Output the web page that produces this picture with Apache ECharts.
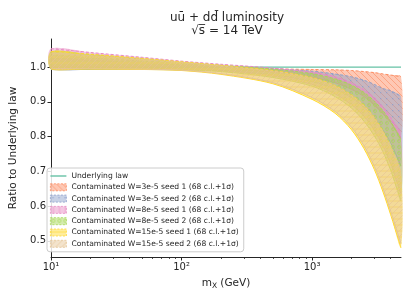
<!DOCTYPE html>
<html><head><meta charset="utf-8">
<script src="https://cdn.jsdelivr.net/npm/echarts@6/dist/echarts.min.js"></script>
<style>html,body{margin:0;padding:0;background:#fff}#c{width:407px;height:295px}</style>
</head><body><div id="c"></div>
<script>
// ---- data ----
const mxValues = [10, 20, 50, 100, 200, 500, 1000, 1500, 2000, 2500, 3000, 3500, 4000, 4800];
const underlyingLaw = [1, 1, 1, 1, 1, 1, 1, 1, 1, 1, 1, 1, 1, 1];

const orangeUpper = [1.025, 1.020, 1.012, 1.006, 1.000, 0.995, 0.993, 0.992, 0.990, 0.987, 0.984, 0.980, 0.977, 0.972];
const orangeLower = [0.995, 0.996, 0.996, 0.995, 0.993, 0.985, 0.970, 0.955, 0.936, 0.915, 0.890, 0.865, 0.840, 0.795];
const blueUpper   = [1.033, 1.026, 1.017, 1.010, 1.003, 0.995, 0.988, 0.980, 0.972, 0.962, 0.950, 0.938, 0.932, 0.915];
const blueLower   = [0.993, 0.993, 0.993, 0.992, 0.990, 0.978, 0.958, 0.937, 0.912, 0.884, 0.853, 0.818, 0.782, 0.715];
const pinkUpper   = [1.053, 1.042, 1.028, 1.017, 1.008, 0.997, 0.985, 0.972, 0.955, 0.935, 0.912, 0.885, 0.855, 0.810];
const pinkLower   = [0.998, 0.997, 0.996, 0.994, 0.989, 0.974, 0.950, 0.923, 0.892, 0.858, 0.818, 0.772, 0.722, 0.635];
const greenUpper  = [1.045, 1.036, 1.024, 1.014, 1.005, 0.994, 0.981, 0.966, 0.948, 0.927, 0.902, 0.874, 0.843, 0.790];
const greenLower  = [0.996, 0.995, 0.994, 0.992, 0.987, 0.970, 0.945, 0.915, 0.882, 0.844, 0.802, 0.755, 0.703, 0.615];
const yellowUpper = [1.045, 1.037, 1.025, 1.015, 1.005, 0.990, 0.970, 0.947, 0.920, 0.890, 0.855, 0.815, 0.770, 0.695];
const yellowLower = [0.994, 0.994, 0.993, 0.990, 0.979, 0.952, 0.907, 0.867, 0.820, 0.765, 0.705, 0.640, 0.575, 0.480];
const tanUpper    = [1.040, 1.033, 1.022, 1.013, 1.003, 0.988, 0.968, 0.945, 0.918, 0.888, 0.853, 0.813, 0.768, 0.698];
const tanLower    = [0.996, 0.995, 0.994, 0.991, 0.981, 0.955, 0.912, 0.872, 0.827, 0.773, 0.714, 0.650, 0.585, 0.492];

const bandNames = [
  'Contaminated W=3e-5 seed 1 (68 c.l.+1σ)',
  'Contaminated W=3e-5 seed 2 (68 c.l.+1σ)',
  'Contaminated W=8e-5 seed 1 (68 c.l.+1σ)',
  'Contaminated W=8e-5 seed 2 (68 c.l.+1σ)',
  'Contaminated W=15e-5 seed 1 (68 c.l.+1σ)',
  'Contaminated W=15e-5 seed 2 (68 c.l.+1σ)'
];
const xTickValues = [10, 100, 1000];
const xTickLabels = ['10¹', '10²', '10³'];
const xMinorTicks = [20,30,40,50,60,70,80,90,200,300,400,500,600,700,800,900,2000,3000,4000];
const yTickValues = [0.5, 0.6, 0.7, 0.8, 0.9, 1.0];
const yTickLabels = ['0.5', '0.6', '0.7', '0.8', '0.9', '1.0'];

// ---- styles ----
const bandColors = ['#fc8d62', '#8da0cb', '#e78ac3', '#a6d854', '#ffd92f', '#e5c494'];
const hatchTypes = ['\\', '.', '|', 'o', '-', '/'];
const ink = '#262626';
const FONT = 'DejaVu Sans';
const SMOOTH = 0.3;

function rgba(hex, a) {
  const n = parseInt(hex.slice(1), 16);
  return 'rgba(' + ((n >> 16) & 255) + ',' + ((n >> 8) & 255) + ',' + (n & 255) + ',' + a + ')';
}
function hatch(hex, type) {
  const s = 6;
  const c = document.createElement('canvas');
  c.width = s; c.height = s;
  const g = c.getContext('2d');
  g.fillStyle = rgba(hex, 0.48);
  g.fillRect(0, 0, s, s);
  g.strokeStyle = rgba(hex, 0.85);
  g.fillStyle = rgba(hex, 0.85);
  g.lineWidth = 0.7;
  g.beginPath();
  if (type === '\\') { g.moveTo(0, 0); g.lineTo(s, s); }
  else if (type === '/') { g.moveTo(0, s); g.lineTo(s, 0); }
  else if (type === '|') { g.moveTo(s / 2, 0); g.lineTo(s / 2, s); }
  else if (type === '-') { g.moveTo(0, s / 2); g.lineTo(s, s / 2); }
  else if (type === 'o') { g.arc(s / 2, s / 2, 1.6, 0, Math.PI * 2); }
  g.stroke();
  if (type === '.') { g.fillRect(2, 2, 1.2, 1.2); }
  return c;
}

const uppers = [orangeUpper, blueUpper, pinkUpper, greenUpper, yellowUpper, tanUpper];
const lowers = [orangeLower, blueLower, pinkLower, greenLower, yellowLower, tanLower];

const series = [{
  type: 'line', name: 'Underlying law', xAxisIndex: 0,
  data: mxValues.map((x, j) => [x, underlyingLaw[j]]),
  symbol: 'none', lineStyle: { color: '#66c2a5', width: 1.3 }, itemStyle: { color: '#66c2a5' }, z: 1
}];
const legendData = [{ name: 'Underlying law', icon: 'path://M0,0 L16,0 L16,1.4 L0,1.4 Z', itemStyle: { color: '#66c2a5' } }];

bandNames.forEach((name, i) => {
  const col = bandColors[i];
  const pat = { image: hatch(col, hatchTypes[i]), repeat: 'repeat' };
  series.push({
    type: 'custom', name: name, xAxisIndex: 0, z: 2 + i,
    data: [[mxValues[0], lowers[i][0]]],
    itemStyle: { color: col },
    renderItem: (params, api) => {
      const up = mxValues.map((x, j) => api.coord([x, uppers[i][j]]));
      const lo = mxValues.map((x, j) => api.coord([x, lowers[i][j]]));
      return {
        type: 'group',
        children: [
          { type: 'polygon', shape: { points: up.concat(lo.slice().reverse()), smooth: SMOOTH },
            style: { fill: pat, stroke: null } },
          { type: 'polyline', shape: { points: lo, smooth: SMOOTH },
            style: { stroke: col, lineWidth: 1, fill: null } },
          { type: 'polyline', shape: { points: up, smooth: SMOOTH },
            style: { stroke: col, lineWidth: 1, lineDash: [3, 2], fill: null } }
        ]
      };
    }
  });
  legendData.push({
    name: name, icon: 'rect',
    itemStyle: { color: pat, borderColor: col, borderWidth: 0.8, borderType: [2, 1.5] }
  });
});

const chart = echarts.init(document.getElementById('c'), null, { renderer: 'canvas' });
chart.setOption({
  animation: false,
  backgroundColor: '#fff',
  title: {
    text: 'uū + dd̄ luminosity\n√s̅ = 14 TeV',
    left: 222, top: 7, textAlign: 'center',
    textStyle: { fontFamily: FONT, fontSize: 12, fontWeight: 'normal', color: ink, lineHeight: 12.5 }
  },
  grid: { left: 44, right: 6, top: 39, bottom: 38, containLabel: false },
  xAxis: [{
    type: 'log', logBase: 10, min: 10, max: 4800,
    name: '{m|m}{s|X} (GeV)', nameLocation: 'middle', nameGap: 20,
    nameTextStyle: { fontFamily: FONT, fontSize: 10.5, color: ink,
      rich: { m: { fontFamily: FONT, fontSize: 10.5, color: ink }, s: { fontFamily: FONT, fontSize: 7.5, color: ink, padding: [5, 0, 0, 0] } } },
    axisLine: { show: true, lineStyle: { color: ink, width: 1 } },
    axisTick: { show: true, length: 3.5, customValues: xTickValues, lineStyle: { color: ink, width: 1 } },
    axisLabel: { show: true, customValues: xTickValues, margin: 5, fontFamily: FONT, fontSize: 10, color: ink,
      formatter: (v) => xTickLabels[xTickValues.findIndex(t => Math.abs(t - v) < 1e-6 * t)] || '' },
    splitLine: { show: false }, minorTick: { show: false }
  }, {
    type: 'log', logBase: 10, min: 10, max: 4800, position: 'bottom',
    axisLine: { show: false },
    axisTick: { show: true, length: 2, customValues: xMinorTicks, lineStyle: { color: ink, width: 0.8 } },
    axisLabel: { show: false }, splitLine: { show: false }
  }],
  yAxis: {
    type: 'value', min: 0.4533, max: 1.0807,
    name: 'Ratio to Underlying law', nameLocation: 'middle', nameGap: 32,
    nameTextStyle: { fontFamily: FONT, fontSize: 10.5, color: ink },
    axisLine: { show: true, lineStyle: { color: ink, width: 1 } },
    axisTick: { show: true, length: 3.5, customValues: yTickValues, lineStyle: { color: ink, width: 1 } },
    axisLabel: { show: true, customValues: yTickValues, margin: 5, fontFamily: FONT, fontSize: 10, color: ink,
      formatter: (v) => yTickLabels[yTickValues.findIndex(t => Math.abs(t - v) < 1e-6)] || '' },
    splitLine: { show: false }
  },
  legend: {
    orient: 'vertical', left: 47, top: 168, z: 20,
    itemWidth: 16, itemHeight: 7, itemGap: 3.3,
    padding: [4, 5, 4, 3],
    backgroundColor: 'rgba(255,255,255,0.85)', borderColor: '#cccccc', borderWidth: 1, borderRadius: 3,
    textStyle: { fontFamily: FONT, fontSize: 7.6, color: ink },
    data: legendData
  },
  series: series
});
</script></body></html>
